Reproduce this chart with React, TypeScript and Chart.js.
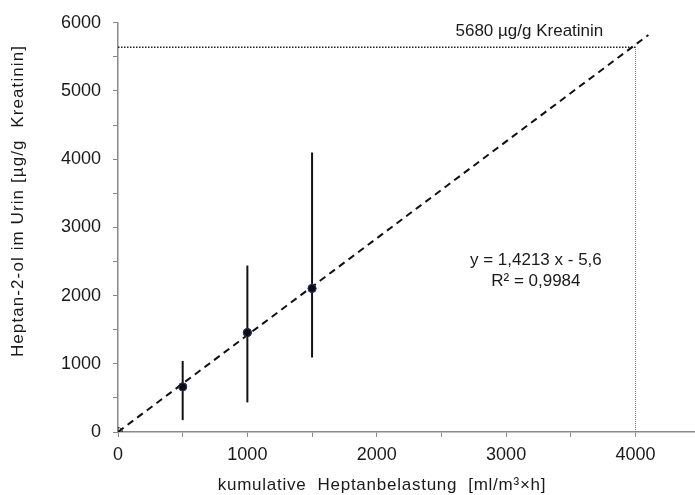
import React, { useEffect, useRef } from "react";
import { Chart, registerables } from "chart.js";

Chart.register(...registerables);

// Data
const exposureX = [500, 1000, 1500];
const meanY = [662, 1458, 2105];
const errLow = [175, 434, 1092];
const errHigh = [1042, 2441, 4098];
const originX = [0];
const originY = [0];
const trendX = [0, 4100];
const trendY = [0, 5822];
const refX = [0, 4000];
const refY = [5640, 5640];
const refVX = [4000, 4000];
const refVY = [0, 5640];
const xTicks = [0, 1000, 2000, 3000, 4000];
const yTicks = [0, 1000, 2000, 3000, 4000, 5000, 6000];
const refLabel = "5680 µg/g Kreatinin";
const eqLabel = "y = 1,4213 x - 5,6";
const r2Label = "R² = 0,9984";
const xTitle = "kumulative  Heptanbelastung  [ml/m³×h]";
const yTitle = "Heptan-2-ol im Urin [µg/g  Kreatinin]";

const FONT = "'Liberation Sans', Arial, sans-serif";
const TEXT = "#1a1a1a";
const AXIS = "#8a8a8a";

const pts = (xs: number[], ys: number[]) => xs.map((x, i) => ({ x, y: ys[i] }));

const overlay = {
  id: "overlay",
  afterDatasetsDraw(chart: any) {
    const { ctx, scales } = chart;
    const xs = scales.x;
    const ys = scales.y;
    ctx.save();
    // error bars
    ctx.strokeStyle = "#111";
    ctx.lineWidth = 2;
    exposureX.forEach((x, i) => {
      const px = xs.getPixelForValue(x);
      ctx.beginPath();
      ctx.moveTo(px, ys.getPixelForValue(errLow[i]));
      ctx.lineTo(px, ys.getPixelForValue(errHigh[i]));
      ctx.stroke();
    });
    // redraw points above bars
    exposureX.forEach((x, i) => {
      ctx.beginPath();
      ctx.arc(xs.getPixelForValue(x), ys.getPixelForValue(meanY[i]), 4, 0, Math.PI * 2);
      ctx.fillStyle = "#0d0d0d";
      ctx.fill();
      ctx.strokeStyle = "#243866";
      ctx.lineWidth = 1;
      ctx.stroke();
    });
    // texts
    ctx.fillStyle = TEXT;
    ctx.font = `17px ${FONT}`;
    ctx.textAlign = "center";
    ctx.textBaseline = "middle";
    ctx.fillText(refLabel, xs.getPixelForValue(3180), ys.getPixelForValue(5880));
    ctx.fillText(eqLabel, xs.getPixelForValue(3230), ys.getPixelForValue(2517));
    ctx.fillText(r2Label, xs.getPixelForValue(3230), ys.getPixelForValue(2210));
    // axis titles
    ctx.font = `17px ${FONT}`;
    (ctx as any).letterSpacing = "0.75px";
    ctx.fillText(xTitle, 382, 485);
    ctx.translate(18, 201);
    ctx.rotate(-Math.PI / 2);
    (ctx as any).letterSpacing = "1.1px";
    ctx.fillText(yTitle, 0, 0);
    ctx.restore();
  },
};

export default function App() {
  const ref = useRef<HTMLCanvasElement>(null);
  useEffect(() => {
    const chart = new Chart(ref.current!, {
      type: "scatter",
      data: {
        datasets: [
          {
            data: pts(trendX, trendY),
            showLine: true,
            borderColor: "#111",
            borderWidth: 2,
            borderDash: [7, 5],
            pointRadius: 0,
          },
          {
            data: pts(refX, refY),
            showLine: true,
            borderColor: "#222",
            borderWidth: 1.5,
            borderDash: [1.5, 1.5],
            pointRadius: 0,
          },
          {
            data: pts(refVX, refVY),
            showLine: true,
            borderColor: "#777",
            borderWidth: 1,
            borderDash: [1, 1],
            pointRadius: 0,
          },
          {
            data: pts(exposureX, meanY),
            pointRadius: 4,
            backgroundColor: "#0d0d0d",
            borderColor: "#243866",
          },
          {
            data: pts(originX, originY),
            pointStyle: "circle",
            pointRadius: 4.5,
            backgroundColor: "rgba(0,0,0,0)",
            borderColor: "#333",
            borderWidth: 1,
          },
          {
            data: pts(originX, originY),
            pointStyle: "cross",
            pointRadius: 4.5,
            borderColor: "#333",
            borderWidth: 1,
          },
        ],
      },
      options: {
        responsive: false,
        animation: false,
        layout: { autoPadding: false, padding: { top: 22, right: 0, left: 0, bottom: 0 } },
        plugins: { legend: { display: false }, tooltip: { enabled: false } },
        scales: {
          x: {
            type: "linear",
            min: 0,
            max: 4460,
            afterBuildTicks: (s: any) => {
              const t: any[] = [];
              for (let v = 0; v <= 4000; v += 500) t.push({ value: v });
              s.ticks = t;
            },
            afterFit: (s: any) => {
              s.height = 63;
            },
            ticks: {
              color: TEXT,
              font: { family: FONT, size: 18 },
              padding: 7,
              maxRotation: 0,
              autoSkip: false,
              callback: (v: any) => (xTicks.includes(v) ? String(v) : ""),
            },
            grid: { drawOnChartArea: false, tickLength: 5, color: AXIS, tickColor: AXIS },
            border: { color: AXIS, width: 1.5 },
          },
          y: {
            type: "linear",
            min: 0,
            max: 6000,
            afterBuildTicks: (s: any) => {
              const t: any[] = [];
              for (let v = 0; v <= 6000; v += 500) t.push({ value: v });
              s.ticks = t;
            },
            afterFit: (s: any) => {
              s.width = 118;
            },
            ticks: {
              color: TEXT,
              font: { family: FONT, size: 18 },
              padding: 12,
              autoSkip: false,
              callback: (v: any) => (yTicks.includes(v) ? String(v) : ""),
            },
            grid: { drawOnChartArea: false, tickLength: 5, color: AXIS, tickColor: AXIS },
            border: { color: AXIS, width: 1.5 },
          },
        },
      },
      plugins: [overlay],
    });
    return () => chart.destroy();
  }, []);
  return (
    <div style={{ position: "absolute", left: 0, top: 0, width: 695, height: 495, background: "#fff" }}>
      <canvas ref={ref} width={695} height={495} style={{ display: "block" }} />
    </div>
  );
}
